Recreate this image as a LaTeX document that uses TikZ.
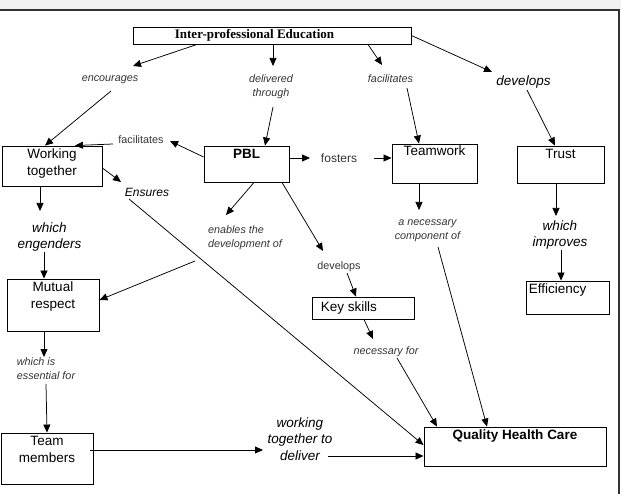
\documentclass[tikz,border=0pt]{standalone}
\usepackage{fontspec}
\setmainfont{Liberation Sans}
\newfontfamily\serifbold{Liberation Serif}
\usetikzlibrary{arrows.meta}

\begin{document}
\begin{tikzpicture}[
  x=1pt, y=-1pt,
  box/.style = {draw, line width=0.9pt, inner sep=0pt},
  boxtxt/.style = {font=\fontsize{13.5}{17}\selectfont, align=center, inner sep=3pt},
  bigit/.style = {font=\fontsize{13.5}{16.5}\selectfont\itshape, align=center, inner sep=0pt},
  smallit/.style = {font=\fontsize{10.8}{14}\selectfont\itshape, align=center, inner sep=0pt, text=black!80},
  smallrm/.style = {font=\fontsize{10.8}{14}\selectfont, inner sep=0pt, text=black!80},
  arr/.style = {-{Triangle[length=8pt,width=7pt]}, line width=0.75pt}
]
  \useasboundingbox (0,0) rectangle (621,494);

  % frame
  \fill[black!5] (0,0) rectangle (621,10);
  \draw[line width=1.8pt, black!80] (0,10) -- (619,10) -- (619,494);

  % boxes
  \node[box, minimum width=278pt, minimum height=17pt] (ipe) at (272,35.5) {};
  \node[font=\serifbold\bfseries\fontsize{13}{15}\selectfont, inner sep=0pt] (ipetxt) at (254.5,35.5) {Inter-professional Education};
  \node[box, minimum width=100pt, minimum height=40pt] (work) at (52,166) {};
  \node[boxtxt, anchor=north] (worktxt) at (work.north) {Working\\together};
  \node[box, minimum width=85pt, minimum height=36pt] (pbl) at (246.5,164) {};
  \node[boxtxt, anchor=north, font=\fontsize{13.5}{17}\selectfont\bfseries] (pbltxt) at (pbl.north) {PBL};
  \node[box, minimum width=85pt, minimum height=39pt] (team) at (434.5,163.5) {};
  \node[boxtxt, anchor=north, inner sep=2pt] (teamtxt) at (team.north) {Teamwork};
  \node[box, minimum width=87pt, minimum height=37pt] (trust) at (560.5,164.5) {};
  \node[boxtxt, anchor=north] (trusttxt) at (trust.north) {Trust};
  \node[box, minimum width=92pt, minimum height=52pt] (mutual) at (53,305) {};
  \node[boxtxt, anchor=north] (mutualtxt) at (mutual.north) {Mutual\\respect};
  \node[box, minimum width=92pt, minimum height=51pt] (members) at (47,458.5) {};
  \node[boxtxt, anchor=north] (memberstxt) at (members.north) {Team\\members};
  \node[box, minimum width=102pt, minimum height=22pt] (keysk) at (363,308) {};
  \node[boxtxt, anchor=west, inner sep=0pt] (keysktxt) at ([xshift=9pt]keysk.west) {Key skills};
  \node[box, minimum width=83pt, minimum height=33pt] (eff) at (567.5,297.5) {};
  \node[boxtxt, anchor=north west] (efftxt) at (eff.north west) {Efficiency};
  \node[box, minimum width=182pt, minimum height=39pt] (qhc) at (515,446.5) {};
  \node[boxtxt, anchor=north, font=\fontsize{13.5}{17}\selectfont\bfseries] (qhctxt) at (qhc.north) {Quality Health Care};

  % link labels
  \node[smallit] (encourages) at (110,80) {encourages};
  \node[smallit] (delivered) at (271,87) {delivered\\through};
  \node[smallit] (facilitatesT) at (390.5,79) {facilitates};
  \node[bigit] (developsT) at (523.5,82) {develops};
  \node[smallrm] (facilitatesL) at (141,140) {facilitates};
  \node[font=\fontsize{12}{14}\selectfont, inner sep=0pt, text=black!80] (fosters) at (339,158) {fosters};
  \node[font=\fontsize{12}{14}\selectfont\itshape, inner sep=0pt] (ensures) at (147,192) {Ensures};
  \node[bigit] (engenders) at (49.5,237) {which\\engenders};
  \node[smallit, align=left] (enables) at (245,238) {enables the\\development of};
  \node[smallrm] (developsL) at (339,267) {develops};
  \node[smallit] (component) at (427.5,231) {a necessary\\component of};
  \node[bigit] (improves) at (560,235) {which\\improves};
  \node[smallit] (necessary) at (386,352) {necessary for};
  \node[smallit, align=left] (essential) at (46,369) {which is\\essential for};
  \node[bigit] (deliver) at (300,439) {working\\together to\\deliver};

  % connectors
  \draw[arr] ([xshift=-75pt]ipe.south) -- ([xshift=23pt,yshift=14pt]encourages.center);
  \draw[arr] ([xshift=1pt]ipe.south) -- ([xshift=2pt,yshift=21pt]delivered.center);
  \draw[arr] ([xshift=96pt]ipe.south) -- ([xshift=-8.5pt,yshift=14pt]facilitatesT.center);
  \draw[arr] (ipe.east) -- ([xshift=-31.5pt,yshift=10pt]developsT.center);
  \draw[arr] ([xshift=1pt,yshift=-11pt]encourages.center) -- ([xshift=-7pt]work.north);
  \draw[arr] ([xshift=2pt,yshift=-20pt]delivered.center) -- ([xshift=18.5pt]pbl.north);
  \draw[arr] ([xshift=16.5pt,yshift=-9pt]facilitatesT.center) -- ([xshift=-15.5pt]team.north);
  \draw[arr] ([xshift=3.5pt,yshift=-8pt]developsT.center) -- ([xshift=-5.5pt]trust.north);
  \draw[arr] ([yshift=7pt]pbl.west) -- ([xshift=29pt,yshift=-1pt]facilitatesL.center);
  \draw[arr] ([xshift=-28pt,yshift=-4pt]facilitatesL.center) -- ([xshift=23pt]work.north);
  \draw[arr] ([yshift=6pt]pbl.east) -- ([xshift=-29pt]fosters.center);
  \draw[arr] ([xshift=35pt]fosters.center) -- ([yshift=5.5pt]team.west);
  \draw[arr] ([yshift=-2pt]work.east) -- ([xshift=-26pt,yshift=10pt]ensures.center);
  \draw[arr] ([xshift=-18pt,yshift=-7pt]ensures.center) -- ([yshift=1.5pt]qhc.west);
  \draw[arr] ([xshift=-12pt]work.south) -- ([xshift=-9.5pt,yshift=26pt]engenders.center);
  \draw[arr] ([xshift=-5.5pt,yshift=-15pt]engenders.center) -- ([xshift=-9pt]mutual.north);
  \draw[arr] ([xshift=7.5pt]pbl.south) -- ([xshift=-19pt,yshift=23pt]enables.center);
  \draw[arr] ([xshift=-50pt,yshift=-23pt]enables.center) -- ([yshift=5pt]mutual.east);
  \draw[arr] ([xshift=35.5pt]pbl.south) -- ([xshift=-16pt,yshift=16pt]developsL.center);
  \draw[arr] ([xshift=8pt,yshift=-6pt]developsL.center) -- ([xshift=-7pt]keysk.north);
  \draw[arr] ([xshift=1pt]keysk.south) -- ([xshift=-13pt,yshift=13pt]necessary.center);
  \draw[arr] ([xshift=11pt,yshift=-6pt]necessary.center) -- ([xshift=-78pt]qhc.north);
  \draw[arr] ([xshift=-15.5pt]team.south) -- ([xshift=-8.5pt,yshift=21pt]component.center);
  \draw[arr] ([xshift=10.5pt,yshift=-16pt]component.center) -- ([xshift=-28pt]qhc.north);
  \draw[arr] ([xshift=-4.5pt]trust.south) -- ([xshift=-4pt,yshift=19pt]improves.center);
  \draw[arr] ([xshift=1pt,yshift=-15pt]improves.center) -- ([xshift=-6.5pt]eff.north);
  \draw[arr] ([xshift=-9pt]mutual.south) -- ([xshift=-2pt,yshift=12pt]essential.center);
  \draw[arr] ([yshift=-15pt]essential.center) -- (members.north);
  \draw[arr] ([xshift=-3pt,yshift=8.5pt]members.east) -- ([xshift=-37pt,yshift=-11pt]deliver.center);
  \draw[arr] ([xshift=28pt,yshift=-17pt]deliver.center) -- ([yshift=-9.5pt]qhc.west);
\end{tikzpicture}
\end{document}
